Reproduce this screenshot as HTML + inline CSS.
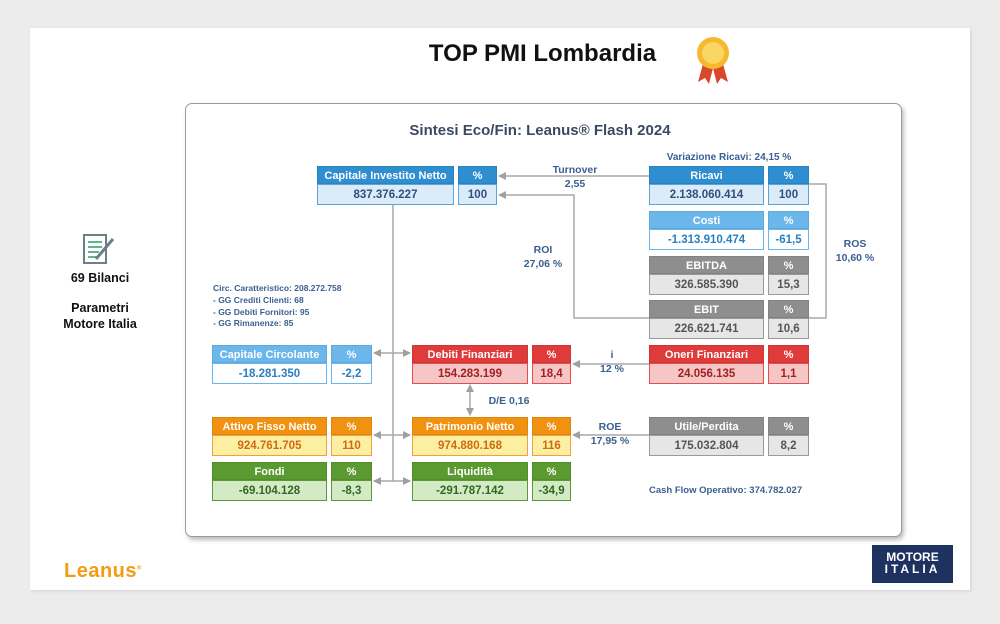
<!DOCTYPE html>
<html><head><meta charset="utf-8"><style>
*{margin:0;padding:0;box-sizing:border-box}
body{width:1000px;height:624px;background:#ececec;position:relative;overflow:hidden;font-family:"Liberation Sans",sans-serif}
.abs{position:absolute}
#panel{left:30px;top:28px;width:940px;height:562px;background:#fff;box-shadow:1px 1px 3px #d0d0d0}
#card{left:185px;top:103px;width:717px;height:434px;background:#fff;border:1px solid #9a9a9a;border-radius:7px;box-shadow:2px 3px 4px #bdbdbd}
.b{position:absolute;font-weight:bold;text-align:center;font-size:11px}
.h{height:18px;line-height:18px;color:#fff;border:1px solid rgba(0,0,0,0.08)}
.v{height:21px;line-height:20px;font-size:11.5px;border:1.5px solid}
.t{position:absolute;font-weight:bold;color:#3a5f91;font-size:10.5px;text-align:center;line-height:14px}
</style></head><body>
<div id="panel" class="abs"></div>
<div class="abs" style="left:400px;top:40px;width:285px;text-align:center;font-size:24px;font-weight:bold;color:#111">TOP PMI Lombardia</div>
<svg class="abs" style="left:693px;top:36px" width="40" height="50">
<path d="M10 28 L5 46 L12 42 L16 48 L20 32Z" fill="#d9482a"/><path d="M30 28 L35 46 L28 42 L24 48 L20 32Z" fill="#d9482a"/>
<circle cx="20" cy="17" r="16" fill="#f5b82e"/><circle cx="20" cy="17" r="11" fill="#fad662"/></svg>

<!-- left icon -->
<svg class="abs" style="left:82px;top:233px" width="34" height="34">
<rect x="2" y="2" width="22" height="28" fill="#fff" stroke="#6b7f85" stroke-width="2"/>
<g stroke="#5cb888" stroke-width="2"><line x1="6" y1="9" x2="20" y2="9"/><line x1="6" y1="14" x2="20" y2="14"/><line x1="6" y1="19" x2="17" y2="19"/><line x1="6" y1="24" x2="16" y2="24"/></g>
<line x1="14" y1="26" x2="31" y2="6" stroke="#6b7f85" stroke-width="3"/></svg>
<div class="abs" style="left:40px;top:271px;width:120px;text-align:center;font-weight:bold;font-size:12.5px;color:#111">69 Bilanci</div>
<div class="abs" style="left:40px;top:300px;width:120px;text-align:center;font-weight:bold;font-size:12.5px;color:#111;line-height:16px">Parametri<br>Motore Italia</div>

<div class="abs" style="left:64px;top:560px;font-size:20px;font-weight:bold;color:#f29c12;letter-spacing:0.5px">Leanus<sup style="font-size:6px">®</sup></div>
<div class="abs" style="left:872px;top:545px;width:81px;height:38px;background:#1e3260;color:#fff;font-weight:bold;text-align:center;font-size:12px;line-height:12px;padding-top:6px">MOTORE<br><span style="letter-spacing:3px">ITALIA</span></div>

<div id="card" class="abs"></div>
<div class="abs" style="left:300px;top:122px;width:480px;text-align:center;font-weight:bold;font-size:15px;color:#3b4a64">Sintesi Eco/Fin: Leanus® Flash 2024</div>

<svg class="abs" style="left:0;top:0" width="1000" height="624">
<defs><marker id="a" markerWidth="8" markerHeight="8" refX="7" refY="4" orient="auto-start-reverse" markerUnits="userSpaceOnUse"><path d="M0 0 L8 4 L0 8Z" fill="#a0a0a0"/></marker></defs>
<g stroke="#a8a8a8" stroke-width="1.5" fill="none">
<line x1="649" y1="176" x2="499" y2="176" marker-end="url(#a)"/>
<polyline points="649,318 574,318 574,195 499,195" marker-end="url(#a)"/>
<polyline points="809,184 826,184 826,318 809,318"/>
<line x1="393" y1="204" x2="393" y2="481"/>
<line x1="374" y1="353" x2="410" y2="353" marker-start="url(#a)" marker-end="url(#a)"/>
<line x1="374" y1="435" x2="410" y2="435" marker-start="url(#a)" marker-end="url(#a)"/>
<line x1="374" y1="481" x2="410" y2="481" marker-start="url(#a)" marker-end="url(#a)"/>
<line x1="649" y1="364" x2="573" y2="364" marker-end="url(#a)"/>
<line x1="649" y1="435" x2="573" y2="435" marker-end="url(#a)"/>
<line x1="470" y1="385" x2="470" y2="415" marker-start="url(#a)" marker-end="url(#a)"/>
</g></svg>

<!-- boxes: header + value -->
<div class="b" style="left:317px;top:166px;width:137px"><div class="h" style="background:#2e8ed0">Capitale Investito Netto</div><div class="v" style="background:#dcebf8;border-color:#5aa3dc;color:#2f4f7f">837.376.227</div></div>
<div class="b" style="left:458px;top:166px;width:39px"><div class="h" style="background:#2e8ed0">%</div><div class="v" style="background:#dcebf8;border-color:#5aa3dc;color:#2f4f7f">100</div></div>

<div class="b" style="left:649px;top:166px;width:115px"><div class="h" style="background:#2e8ed0">Ricavi</div><div class="v" style="background:#dcebf8;border-color:#5aa3dc;color:#2f4f7f">2.138.060.414</div></div>
<div class="b" style="left:768px;top:166px;width:41px"><div class="h" style="background:#2e8ed0">%</div><div class="v" style="background:#dcebf8;border-color:#5aa3dc;color:#2f4f7f">100</div></div>

<div class="b" style="left:649px;top:211px;width:115px"><div class="h" style="background:#6bb6ea">Costi</div><div class="v" style="background:#fff;border-color:#6bb6ea;color:#2a7fc0">-1.313.910.474</div></div>
<div class="b" style="left:768px;top:211px;width:41px"><div class="h" style="background:#6bb6ea">%</div><div class="v" style="background:#fff;border-color:#6bb6ea;color:#2a7fc0">-61,5</div></div>

<div class="b" style="left:649px;top:256px;width:115px"><div class="h" style="background:#8e8e8e">EBITDA</div><div class="v" style="background:#e6e6e6;border-color:#9a9a9a;color:#555">326.585.390</div></div>
<div class="b" style="left:768px;top:256px;width:41px"><div class="h" style="background:#8e8e8e">%</div><div class="v" style="background:#e6e6e6;border-color:#9a9a9a;color:#555">15,3</div></div>

<div class="b" style="left:649px;top:300px;width:115px"><div class="h" style="background:#8e8e8e">EBIT</div><div class="v" style="background:#e6e6e6;border-color:#9a9a9a;color:#555">226.621.741</div></div>
<div class="b" style="left:768px;top:300px;width:41px"><div class="h" style="background:#8e8e8e">%</div><div class="v" style="background:#e6e6e6;border-color:#9a9a9a;color:#555">10,6</div></div>

<div class="b" style="left:212px;top:345px;width:115px"><div class="h" style="background:#6bb6ea">Capitale Circolante</div><div class="v" style="background:#fff;border-color:#6bb6ea;color:#2a7fc0">-18.281.350</div></div>
<div class="b" style="left:331px;top:345px;width:41px"><div class="h" style="background:#6bb6ea">%</div><div class="v" style="background:#fff;border-color:#6bb6ea;color:#2a7fc0">-2,2</div></div>

<div class="b" style="left:412px;top:345px;width:116px"><div class="h" style="background:#e03b3b">Debiti Finanziari</div><div class="v" style="background:#f6c6c6;border-color:#e05050;color:#a32020">154.283.199</div></div>
<div class="b" style="left:532px;top:345px;width:39px"><div class="h" style="background:#e03b3b">%</div><div class="v" style="background:#f6c6c6;border-color:#e05050;color:#a32020">18,4</div></div>

<div class="b" style="left:649px;top:345px;width:115px"><div class="h" style="background:#e03b3b">Oneri Finanziari</div><div class="v" style="background:#f6c6c6;border-color:#e05050;color:#a32020">24.056.135</div></div>
<div class="b" style="left:768px;top:345px;width:41px"><div class="h" style="background:#e03b3b">%</div><div class="v" style="background:#f6c6c6;border-color:#e05050;color:#a32020">1,1</div></div>

<div class="b" style="left:212px;top:417px;width:115px"><div class="h" style="background:#f0910f">Attivo Fisso Netto</div><div class="v" style="background:#fdefa2;border-color:#f0a040;color:#d06a10">924.761.705</div></div>
<div class="b" style="left:331px;top:417px;width:41px"><div class="h" style="background:#f0910f">%</div><div class="v" style="background:#fdefa2;border-color:#f0a040;color:#d06a10">110</div></div>

<div class="b" style="left:412px;top:417px;width:116px"><div class="h" style="background:#f0910f">Patrimonio Netto</div><div class="v" style="background:#fdefa2;border-color:#f0a040;color:#d06a10">974.880.168</div></div>
<div class="b" style="left:532px;top:417px;width:39px"><div class="h" style="background:#f0910f">%</div><div class="v" style="background:#fdefa2;border-color:#f0a040;color:#d06a10">116</div></div>

<div class="b" style="left:649px;top:417px;width:115px"><div class="h" style="background:#8e8e8e">Utile/Perdita</div><div class="v" style="background:#e6e6e6;border-color:#9a9a9a;color:#555">175.032.804</div></div>
<div class="b" style="left:768px;top:417px;width:41px"><div class="h" style="background:#8e8e8e">%</div><div class="v" style="background:#e6e6e6;border-color:#9a9a9a;color:#555">8,2</div></div>

<div class="b" style="left:212px;top:462px;width:115px"><div class="h" style="background:#5a9a30">Fondi</div><div class="v" style="background:#d4e9c5;border-color:#5a9a30;color:#2f6a20">-69.104.128</div></div>
<div class="b" style="left:331px;top:462px;width:41px"><div class="h" style="background:#5a9a30">%</div><div class="v" style="background:#d4e9c5;border-color:#5a9a30;color:#2f6a20">-8,3</div></div>

<div class="b" style="left:412px;top:462px;width:116px"><div class="h" style="background:#5a9a30">Liquidità</div><div class="v" style="background:#d4e9c5;border-color:#5a9a30;color:#2f6a20">-291.787.142</div></div>
<div class="b" style="left:532px;top:462px;width:39px"><div class="h" style="background:#5a9a30">%</div><div class="v" style="background:#d4e9c5;border-color:#5a9a30;color:#2f6a20">-34,9</div></div>

<!-- labels -->
<div class="t" style="left:540px;top:163px;width:70px">Turnover<br>2,55</div>
<div class="t" style="left:508px;top:243px;width:70px">ROI<br>27,06 %</div>
<div class="t" style="left:820px;top:237px;width:70px">ROS<br>10,60 %</div>
<div class="t" style="left:577px;top:348px;width:70px">i<br>12 %</div>
<div class="t" style="left:484px;top:394px;width:50px">D/E 0,16</div>
<div class="t" style="left:575px;top:420px;width:70px">ROE<br>17,95 %</div>
<div class="t" style="left:649px;top:151px;width:160px;font-size:10px">Variazione Ricavi: 24,15 %</div>
<div class="t" style="left:649px;top:484px;text-align:left;font-size:9.5px">Cash Flow Operativo: 374.782.027</div>
<div class="t" style="left:213px;top:283px;text-align:left;font-size:8.5px;line-height:11.8px">Circ. Caratteristico: 208.272.758<br>- GG Crediti Clienti: 68<br>- GG Debiti Fornitori: 95<br>- GG Rimanenze: 85</div>
</body></html>
